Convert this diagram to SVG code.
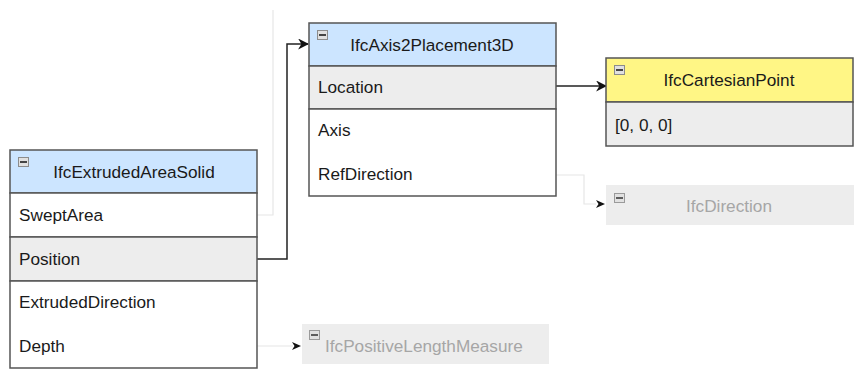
<svg xmlns="http://www.w3.org/2000/svg" width="860" height="383" viewBox="0 0 860 383">
<defs>
<style>
text{font-family:"Liberation Sans",Arial,sans-serif;font-size:17.2px;fill:#1a1a1a}
.hdr{text-anchor:middle}
.box{stroke:#555;stroke-width:1.5}
.blue{fill:#cce5ff}
.white{fill:#fff}
.grey{fill:#ededed}
.yellow{fill:#fff685}
.faintbox{fill:#ededed;stroke:none}
.con{fill:none;stroke:#222;stroke-width:1.5}
.fcon{fill:none;stroke:#e6e6e6;stroke-width:1.2}
</style>
<marker id="ah" viewBox="0 0 10 10" refX="9" refY="5" markerWidth="11" markerHeight="11" markerUnits="userSpaceOnUse" orient="auto"><path d="M0,0 L10,5 L0,10 L3,5 Z" fill="#111"/></marker>
<symbol id="minus" viewBox="0 0 11 10"><rect x="0.5" y="0.5" width="10" height="9" fill="#e0e0e0" stroke="#8c8c8c"/><line x1="2" y1="5" x2="9" y2="5" stroke="#444" stroke-width="2"/></symbol>
</defs>
<rect width="860" height="383" fill="#fff"/>

<g id="connectors">
<path class="fcon" d="M257,215 H273 V10"/>
<path class="con" d="M257,259 H287 V44 H308" marker-end="url(#ah)"/>
<path class="con" d="M556,86 H606" marker-end="url(#ah)"/>
<path class="fcon" d="M556,175 H584 V204 H596"/>
<path d="M596,200 L605,204 L596,208 L598.5,204 Z" fill="#111"/>
<path class="fcon" d="M257,346 H293"/>
<path d="M292,342 L301,346 L292,350 L294.5,346 Z" fill="#111"/>
</g>

<g id="IfcExtrudedAreaSolid">
<rect class="box blue" x="10" y="150" width="247" height="43"/>
<rect class="box white" x="10" y="193" width="247" height="44"/>
<rect class="box grey" x="10" y="237" width="247" height="44"/>
<rect class="box white" x="10" y="281" width="247" height="87"/>
<use href="#minus" x="18" y="157" width="11" height="10"/>
<text class="hdr" x="134" y="178">IfcExtrudedAreaSolid</text>
<text x="19" y="221">SweptArea</text>
<text x="19" y="265">Position</text>
<text x="19" y="308">ExtrudedDirection</text>
<text x="19" y="352">Depth</text>
</g>

<g id="IfcAxis2Placement3D">
<rect class="box blue" x="309" y="23" width="247" height="43"/>
<rect class="box grey" x="309" y="66" width="247" height="43"/>
<rect class="box white" x="309" y="109" width="247" height="87"/>
<use href="#minus" x="317" y="30" width="11" height="10"/>
<text class="hdr" x="432" y="51">IfcAxis2Placement3D</text>
<text x="318" y="93">Location</text>
<text x="318" y="136">Axis</text>
<text x="318" y="180">RefDirection</text>
</g>

<g id="IfcCartesianPoint">
<rect class="box yellow" x="606" y="58" width="247" height="44"/>
<rect class="box grey" x="606" y="102" width="247" height="44"/>
<use href="#minus" x="614" y="65" width="11" height="10"/>
<text class="hdr" x="729" y="86">IfcCartesianPoint</text>
<text x="615" y="131">[0, 0, 0]</text>
</g>

<g id="IfcDirection">
<rect class="faintbox" x="606" y="185" width="248" height="40"/>
<use href="#minus" x="614" y="193" width="11" height="10" opacity="0.85"/>
<text class="hdr" x="729" y="212" style="fill:#a6a6a6">IfcDirection</text>
</g>

<g id="IfcPositiveLengthMeasure">
<rect class="faintbox" x="302" y="324" width="247" height="40"/>
<use href="#minus" x="309" y="330" width="11" height="10" opacity="0.85"/>
<text x="325" y="352" style="fill:#a6a6a6">IfcPositiveLengthMeasure</text>
</g>
</svg>
